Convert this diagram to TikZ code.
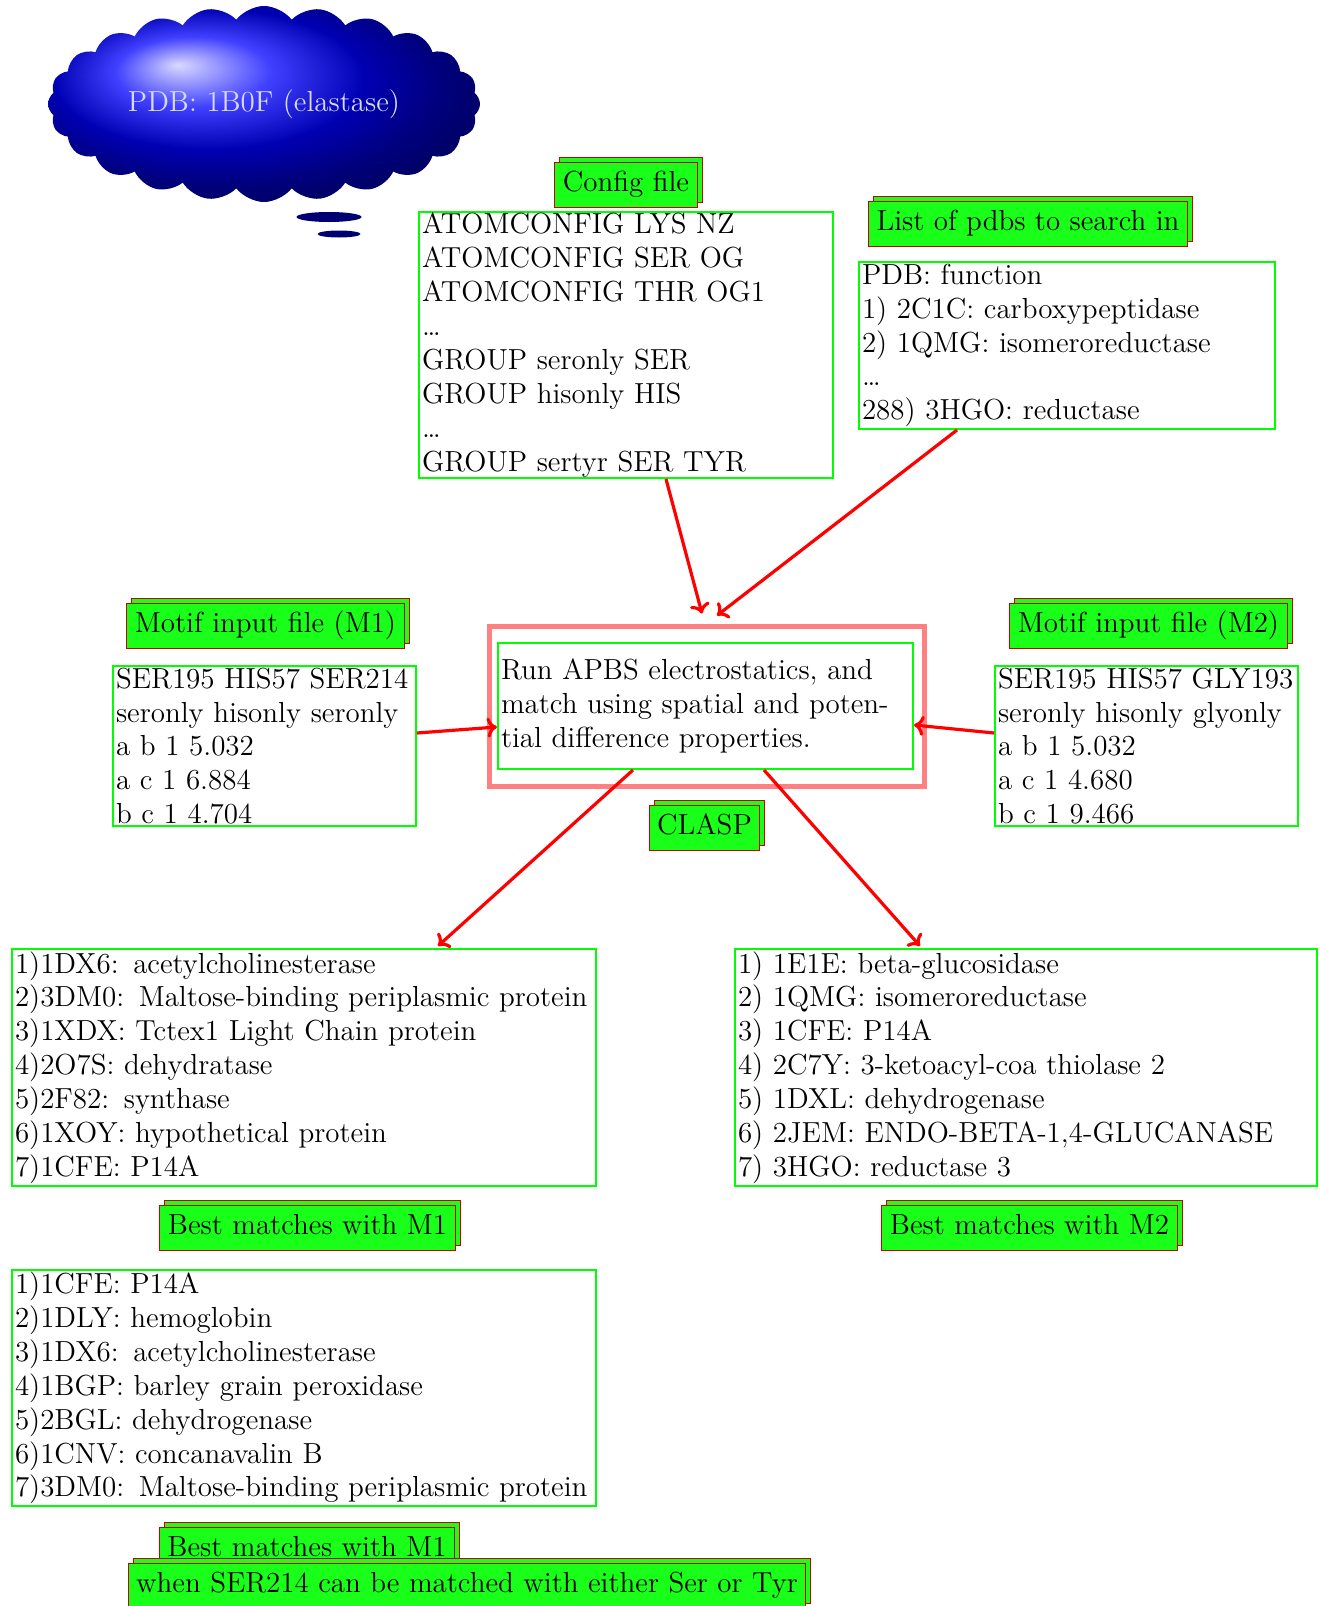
\documentclass[tikz,border=0pt]{standalone}
\usetikzlibrary{shapes.symbols,shapes.geometric,shadows,arrows.meta}
\begin{document}
\begin{tikzpicture}[x=0.5pt,y=-0.5pt,
  every node/.style={font=\fontsize{14.5}{16.95}\selectfont},
  tbox/.style={draw=green, line width=1pt, align=left, inner xsep=1.5pt, inner ysep=0pt,
    execute at begin node={\hyphenpenalty=10000\exhyphenpenalty=10000}},
  tag/.style={draw=red!80!black, fill=green!90!white, line width=0.5pt, inner xsep=4pt, inner ysep=4.5pt,
    text height=10pt, text depth=3.5pt,
    copy shadow={shadow xshift=2.5pt, shadow yshift=2.5pt, fill=green!90!white, draw=red!80!black, line width=0.5pt}},
  arr/.style={red, line width=1.6pt, -{To[length=5pt,width=10pt]}},
  bub/.style={ellipse, fill=blue!45!black, inner sep=0pt}
]
\useasboundingbox (0,0) rectangle (1319,1606);

% cloud
\node[cloud, cloud puffs=24, cloud puff arc=105, aspect=2.9, shading=ball, ball color=blue,
  minimum width=216pt, minimum height=98pt, inner sep=0pt, text=blue!15!white] (cloud) at (264,104) {PDB: 1B0F (elastase)};
\node[bub, minimum width=32.5pt, minimum height=5pt] (bub1) at (329,217) {};
\node[bub, minimum width=21.5pt, minimum height=3.5pt] (bub2) at (339,234) {};

% config
\node[tag] (configlbl) at (626,185) {Config file};
\node[tbox, text width=204pt, minimum height=133pt] (config) at (626,345)
  {ATOMCONFIG LYS NZ\\ATOMCONFIG SER OG\\ATOMCONFIG THR OG1\\\ldots\\GROUP seronly SER\\GROUP hisonly HIS\\\ldots\\GROUP sertyr SER TYR};

% list
\node[tag] (listlbl) at (1028,224) {List of pdbs to search in};
\node[tbox, text width=205pt, minimum height=83.5pt] (list) at (1067,345.5)
  {PDB: function\\1) 2C1C: carboxypeptidase\\2) 1QMG: isomeroreductase\\\ldots\\288) 3HGO: reductase};

% motifs
\node[tag] (m1lbl) at (265.5,626) {Motif input file (M1)};
\node[tbox, text width=148.5pt, minimum height=80pt] (m1) at (264.5,746)
  {SER195 HIS57 SER214\\seronly hisonly seronly\\a b 1 5.032\\a c 1 6.884\\b c 1 4.704};
\node[tag] (m2lbl) at (1148.5,626) {Motif input file (M2)};
\node[tbox, text width=148.5pt, minimum height=80pt] (m2) at (1146.5,746)
  {SER195 HIS57 GLY193\\seronly hisonly glyonly\\a b 1 5.032\\a c 1 4.680\\b c 1 9.466};

% center
\node[draw=red!50, line width=2.5pt, minimum width=217.5pt, minimum height=80pt] (outer) at (706.5,706) {};
\node[tbox, text width=204.5pt, minimum height=63pt] (run) at (705.5,706)
  {Run APBS electrostatics, and\\match using spatial and poten-\\tial difference properties.};
\node[tag] (clasp) at (704.5,827.5) {CLASP};

% results
\node[tbox, text width=289pt, minimum height=118.5pt] (res1) at (304,1067.5)
  {1)1DX6: acetylcholinesterase\\2)3DM0: Maltose-binding periplasmic protein\\3)1XDX: Tctex1 Light Chain protein\\4)2O7S: dehydratase\\5)2F82: synthase\\6)1XOY: hypothetical protein\\7)1CFE: P14A};
\node[tbox, text width=288pt, minimum height=118.5pt] (res2) at (1026,1067.5)
  {1) 1E1E: beta-glucosidase\\2) 1QMG: isomeroreductase\\3) 1CFE: P14A\\4) 2C7Y: 3-ketoacyl-coa thiolase 2\\5) 1DXL: dehydrogenase\\6) 2JEM: ENDO-BETA-1,4-GLUCANASE\\7) 3HGO: reductase 3};
\node[tag] (bm1) at (307.5,1228) {Best matches with M1};
\node[tag] (bm2) at (1029.5,1228) {Best matches with M2};
\node[tbox, text width=289pt, minimum height=118pt] (res3) at (304,1388)
  {1)1CFE: P14A\\2)1DLY: hemoglobin\\3)1DX6: acetylcholinesterase\\4)1BGP: barley grain peroxidase\\5)2BGL: dehydrogenase\\6)1CNV: concanavalin B\\7)3DM0: Maltose-binding periplasmic protein};
\node[tag] (bm3) at (307,1550) {Best matches with M1};
\node[tag] (bm3b) at (467,1586) {when SER214 can be matched with either Ser or Tyr};

% arrows
\draw[arr] ([xshift=20pt]config.south) -- ([xshift=-2.25pt,yshift=5pt]outer.north);
\draw[arr] ([xshift=-55pt]list.south) -- ([xshift=5.25pt,yshift=4pt]outer.north);
\draw[arr] ([yshift=6.5pt]m1.east) -- ([yshift=-10.5pt]run.west);
\draw[arr] ([yshift=6.5pt]m2.west) -- ([yshift=-9.5pt]run.east);
\draw[arr] ([xshift=-36.25pt]run.south) -- ([xshift=67pt,yshift=1pt]res1.north);
\draw[arr] ([xshift=29.25pt]run.south) -- ([xshift=-53pt,yshift=1pt]res2.north);
\end{tikzpicture}
\end{document}
